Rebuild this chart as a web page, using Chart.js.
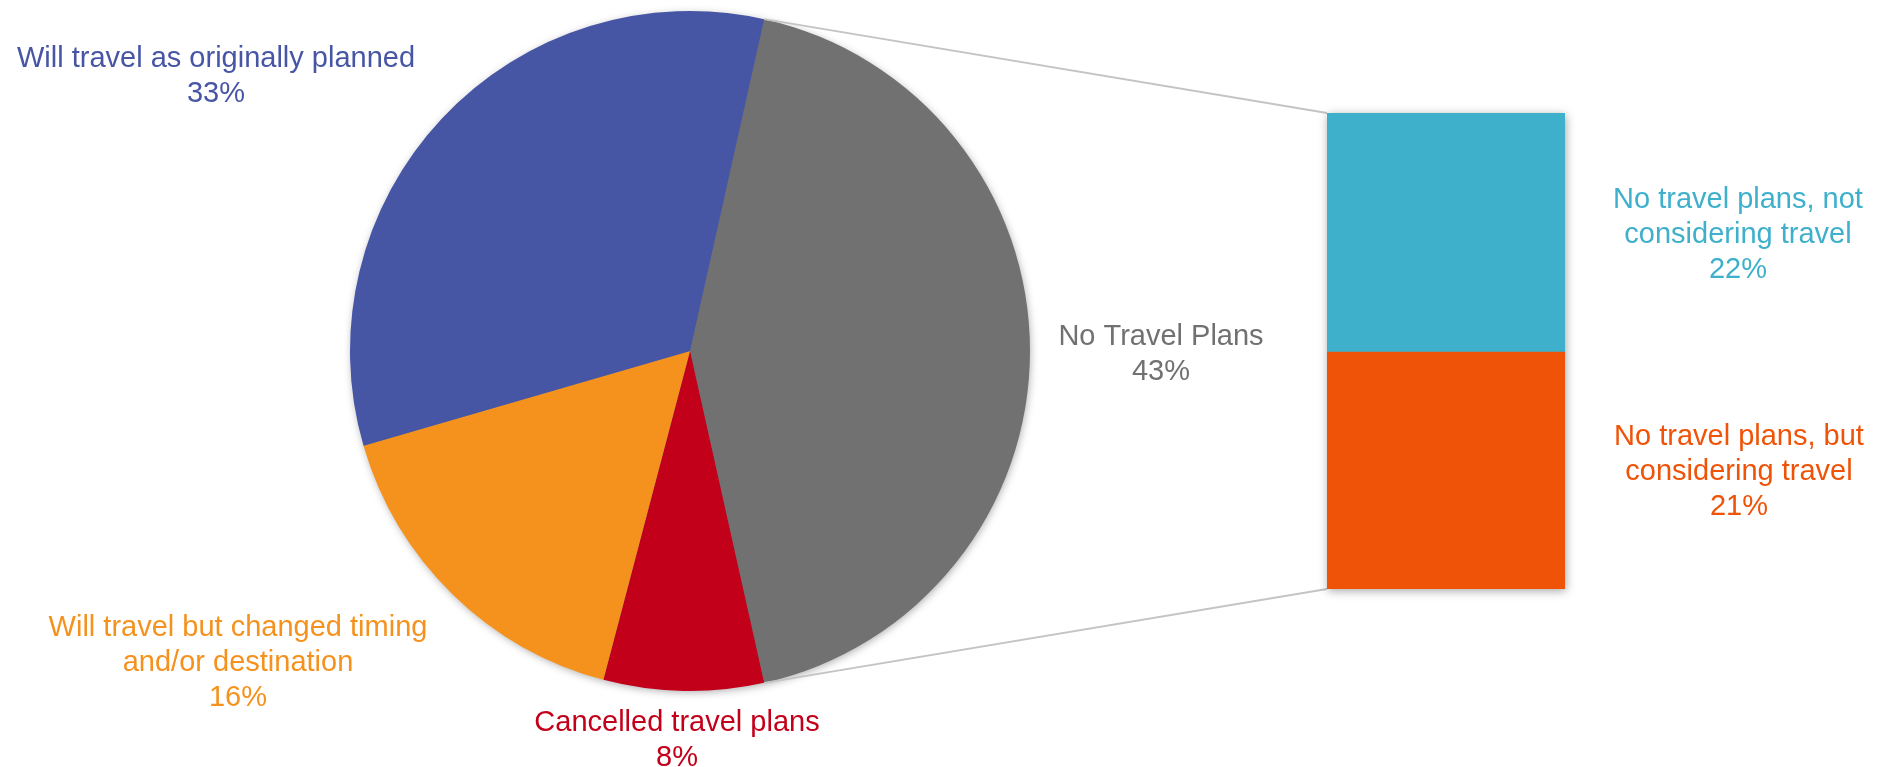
<!DOCTYPE html>
<html>
<head>
<meta charset="utf-8">
<script src="https://cdn.jsdelivr.net/npm/chart.js@4"></script>
<style>
  html, body { margin: 0; padding: 0; background: #fff; }
  #wrap { position: relative; width: 1880px; height: 767px; }
  #wrap canvas { position: absolute; left: 0; top: 0; }
</style>
</head>
<body>
<div id="wrap">
  <canvas id="pie" width="1880" height="767"></canvas>
  <canvas id="bar" width="1880" height="767"></canvas>
</div>
<script>
// pie slices, clockwise starting from the "other" slice
const pieLabels = ['No Travel Plans', 'Cancelled travel plans', 'Will travel but changed timing\nand/or destination', 'Will travel as originally planned'];
const pieValues = [43, 7.6, 16.4, 33];
const pieColors = ['#717171', '#C3001A', '#F5921E', '#4755A5'];

// breakdown of "No Travel Plans", bottom to top
const barLabels = ['No travel plans, but\nconsidering travel', 'No travel plans, not\nconsidering travel'];
const barValues = [21.4, 21.6];
const barColors = ['#EF5307', '#3EB0CC'];

const FONT = '29px "Liberation Sans", Arial, sans-serif';
const LINE_H = 35;

// label anchor spots (centre x, middle of first line)
const pieLabelPos = [[1161, 337], [677, 723], [238, 628], [216, 59]];
const barLabelPos = [[1739, 437], [1738, 200]];

const pct = (v) => Math.round(v) + '%';

function drawLabel(ctx, text, value, color, pos) {
  const lines = text.split('\n').concat([pct(value)]);
  ctx.save();
  ctx.font = FONT;
  ctx.fillStyle = color;
  ctx.textAlign = 'center';
  ctx.textBaseline = 'middle';
  lines.forEach((l, i) => ctx.fillText(l, pos[0], pos[1] + i * LINE_H));
  ctx.restore();
}

const pieShadow = {
  id: 'pieShadow',
  beforeDatasetsDraw(chart) {
    const arc = chart.getDatasetMeta(0).data[0];
    const { ctx } = chart;
    ctx.save();
    ctx.shadowColor = 'rgba(0,0,0,0.35)';
    ctx.shadowBlur = 9;
    ctx.shadowOffsetX = 1;
    ctx.shadowOffsetY = 2;
    ctx.fillStyle = '#777';
    ctx.beginPath();
    ctx.arc(arc.x, arc.y, arc.outerRadius - 1, 0, Math.PI * 2);
    ctx.fill();
    ctx.restore();
  },
  afterDraw(chart) {
    const { ctx } = chart;
    pieLabels.forEach((t, i) => drawLabel(ctx, t, pieValues[i], pieColors[i], pieLabelPos[i]));
  },
};

const pieChart = new Chart(document.getElementById('pie').getContext('2d'), {
  type: 'pie',
  data: {
    labels: pieLabels,
    datasets: [{ data: pieValues, backgroundColor: pieColors, borderWidth: 0 }],
  },
  options: {
    responsive: false,
    animation: false,
    rotation: 12.6,
    layout: { padding: { left: 350, right: 850, top: 11, bottom: 76 } },
    plugins: { legend: { display: false }, tooltip: { enabled: false } },
  },
  plugins: [pieShadow],
});

const barExtras = {
  id: 'barExtras',
  beforeDatasetsDraw(chart) {
    const { ctx } = chart;
    const lo = chart.getDatasetMeta(0).data[0];
    const hi = chart.getDatasetMeta(1).data[0];
    const left = lo.x - lo.width / 2;
    const right = lo.x + lo.width / 2;

    // connector lines from the "other" slice to the bar
    const arc = pieChart.getDatasetMeta(0).data[0];
    const p1 = [arc.x + arc.outerRadius * Math.cos(arc.startAngle), arc.y + arc.outerRadius * Math.sin(arc.startAngle)];
    const p2 = [arc.x + arc.outerRadius * Math.cos(arc.endAngle), arc.y + arc.outerRadius * Math.sin(arc.endAngle)];
    ctx.save();
    ctx.strokeStyle = '#C4C4C4';
    ctx.lineWidth = 1.8;
    ctx.beginPath();
    ctx.moveTo(p1[0], p1[1]);
    ctx.lineTo(left, hi.y);
    ctx.moveTo(p2[0], p2[1]);
    ctx.lineTo(left, lo.base);
    ctx.stroke();

    // soft shadow behind the bar
    ctx.shadowColor = 'rgba(0,0,0,0.35)';
    ctx.shadowBlur = 9;
    ctx.shadowOffsetX = 1;
    ctx.shadowOffsetY = 2;
    ctx.fillStyle = '#888';
    ctx.fillRect(left, hi.y, right - left, lo.base - hi.y);
    ctx.restore();
  },
  afterDraw(chart) {
    const { ctx } = chart;
    barLabels.forEach((t, i) => drawLabel(ctx, t, barValues[i], barColors[i], barLabelPos[i]));
  },
};

new Chart(document.getElementById('bar').getContext('2d'), {
  type: 'bar',
  data: {
    labels: ['No Travel Plans'],
    datasets: barValues.map((v, i) => ({
      label: barLabels[i],
      data: [v],
      backgroundColor: barColors[i],
      borderWidth: 0,
      barPercentage: 1,
      categoryPercentage: 1,
    })),
  },
  options: {
    responsive: false,
    animation: false,
    layout: { padding: { left: 1327, right: 315, top: 113, bottom: 178 } },
    scales: {
      x: { stacked: true, display: false },
      y: { stacked: true, display: false, min: 0, max: 43 },
    },
    plugins: { legend: { display: false }, tooltip: { enabled: false } },
  },
  plugins: [barExtras],
});
</script>
</body>
</html>
